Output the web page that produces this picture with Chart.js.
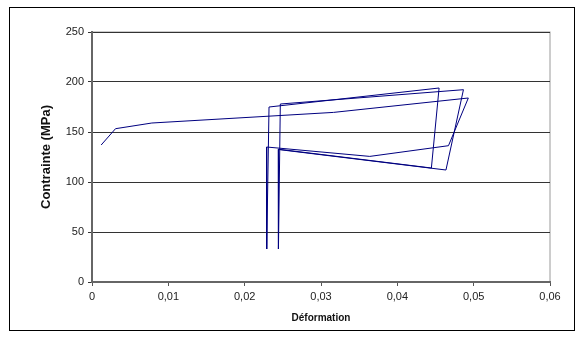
<!DOCTYPE html>
<html>
<head>
<meta charset="utf-8">
<script src="https://cdn.jsdelivr.net/npm/chart.js@4/dist/chart.umd.min.js"></script>
<style>
  html, body { margin: 0; padding: 0; background: #fff; }
  #wrap { position: relative; width: 587px; height: 338px; }
</style>
</head>
<body>
<div id="wrap"><canvas id="stressChart" width="587" height="338"></canvas></div>
<script>
// strain / stress path (in drawing order)
const strain = [0.0012, 0.00308, 0.00784, 0.03164, 0.0493, 0.0467, 0.03639, 0.02287, 0.02287, 0.0229,
	0.02319, 0.04547, 0.04446, 0.02441, 0.02441, 0.02444, 0.02467, 0.04866, 0.04637, 0.02441];
const stress = [137, 153.3, 159, 169.6, 184, 136.3, 125.6, 135, 74, 33,
	175, 194, 114, 132.8, 71.6, 33, 178, 192.3, 112, 132.5];

const xTickLabels = ['0', '0,01', '0,02', '0,03', '0,04', '0,05', '0,06'];
const yTickLabels = ['0', '50', '100', '150', '200', '250'];

const xTitle = 'Déformation';
const yTitle = 'Contrainte (MPa)';

const points = strain.map((x, i) => ({ x: x, y: stress[i] }));

const framePlugin = {
	id: 'frame',
	beforeDraw(chart) {
		const { ctx, chartArea: a } = chart;
		ctx.save();
		ctx.fillStyle = '#fff';
		ctx.fillRect(0, 0, chart.width, chart.height);
		ctx.strokeStyle = '#000';
		ctx.lineWidth = 1;
		ctx.strokeRect(9.5, 7.5, 565, 323);
		ctx.strokeStyle = '#9a9a9a';
		ctx.strokeRect(a.left, a.top, a.right - a.left, a.bottom - a.top);
		ctx.restore();
	}
};

const ctx = document.getElementById('stressChart').getContext('2d');
new Chart(ctx, {
	type: 'scatter',
	data: {
		datasets: [{
			data: points,
			showLine: true,
			borderColor: '#000080',
			backgroundColor: '#000080',
			borderWidth: 1,
			pointRadius: 0,
			tension: 0
		}]
	},
	options: {
		responsive: false,
		animation: false,
		layout: { padding: { left: 10, right: 37, top: 32, bottom: 10 } },
		plugins: {
			legend: { display: false },
			tooltip: { enabled: false }
		},
		scales: {
			x: {
				type: 'linear',
				min: 0,
				max: 0.06,
				afterFit: s => { s.height = 46; },
				ticks: {
					stepSize: 0.01,
					padding: 4,
					color: '#222',
					font: { family: 'Liberation Sans, Arial', size: 11 },
					callback: (v, i) => xTickLabels[i]
				},
				grid: {
					drawOnChartArea: false,
					drawTicks: true,
					tickLength: 4,
					color: '#555'
				},
				border: { color: '#666', width: 2 },
				title: {
					display: true,
					text: xTitle,
					color: '#111',
					padding: { top: 0, bottom: 4 },
					font: { family: 'Liberation Sans, Arial', size: 10, weight: 'bold' }
				}
			},
			y: {
				min: 0,
				max: 250,
				afterFit: s => { s.width = 82; },
				ticks: {
					stepSize: 50,
					padding: 4,
					color: '#222',
					font: { family: 'Liberation Sans, Arial', size: 11 },
					callback: (v, i) => yTickLabels[i]
				},
				grid: {
					drawTicks: true,
					tickLength: 4,
					color: '#333',
					lineWidth: 1
				},
				border: { color: '#666', width: 2 },
				title: {
					display: true,
					text: yTitle,
					color: '#111',
					padding: { top: 29, bottom: 0 },
					font: { family: 'Liberation Sans, Arial', size: 13, weight: 'bold' }
				}
			}
		}
	},
	plugins: [framePlugin]
});
</script>
</body>
</html>
